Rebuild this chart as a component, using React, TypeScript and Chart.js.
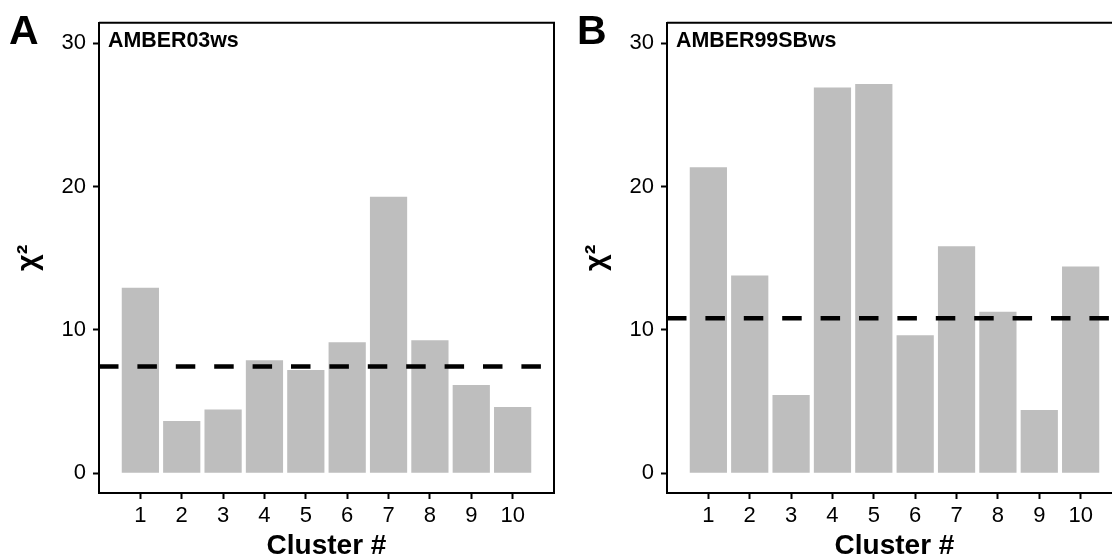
import React, { useEffect, useRef } from "react";
import { Chart, registerables } from "chart.js";

Chart.register(...registerables);

// ---- data ----
const clusters = ["1", "2", "3", "4", "5", "6", "7", "8", "9", "10"];
const amber03ws = [12.95, 3.65, 4.44, 7.88, 7.21, 9.14, 19.3, 9.28, 6.16, 4.63];
const amber99sbws = [21.35, 13.79, 5.46, 26.91, 27.17, 9.63, 15.84, 11.26, 4.42, 14.42];
const thresholds = [7.44, 10.82];
const yTicks = [0, 10, 20, 30];
const panelLetters = ["A", "B"];
const panelNames = ["AMBER03ws", "AMBER99SBws"];
const xTitle = "Cluster #";
const yTitle = "χ²";

const FONT = "'Liberation Sans', Arial, Helvetica, sans-serif";
const Y_MIN = -1.38;
const Y_MAX = 31.44;

const framePlugin = {
  id: "frame",
  afterDraw(chart: any) {
    const { ctx, chartArea: a } = chart;
    ctx.save();
    ctx.strokeStyle = "#000";
    ctx.lineWidth = 2;
    ctx.beginPath();
    ctx.moveTo(a.left, a.top);
    ctx.lineTo(a.right, a.top);
    ctx.lineTo(a.right, a.bottom);
    ctx.stroke();
    ctx.restore();
  },
};

function Panel({
  values,
  threshold,
  left,
  letter,
  name,
}: {
  values: number[];
  threshold: number;
  left: number;
  letter: string;
  name: string;
}) {
  const ref = useRef<HTMLCanvasElement | null>(null);

  useEffect(() => {
    if (!ref.current) return;
    const n = clusters.length;
    const chart = new Chart(ref.current, {
      type: "bar",
      data: {
        datasets: [
          {
            type: "line",
            data: [
              { x: 0, y: threshold },
              { x: n + 1, y: threshold },
            ],
            borderColor: "#000",
            borderWidth: 4.5,
            borderDash: [19.5, 18.9],
            borderCapStyle: "butt",
            pointRadius: 0,
            order: 0,
          } as any,
          {
            type: "bar",
            data: clusters.map((_, i) => ({ x: i + 1, y: values[i] })),
            backgroundColor: "#BEBEBE",
            borderWidth: 0,
            barPercentage: 0.9,
            categoryPercentage: 1,
            order: 1,
          } as any,
        ],
      },
      options: {
        responsive: false,
        animation: false,
        devicePixelRatio: 1,
        layout: { padding: { top: 22.7, right: 2, bottom: 0, left: 0 } },
        plugins: {
          legend: { display: false },
          tooltip: { enabled: false },
        },
        scales: {
          x: {
            type: "linear",
            min: 0,
            max: n + 1,
            offset: false,
            afterBuildTicks: (s: any) => {
              s.ticks = clusters.map((_, i) => ({ value: i + 1 }));
            },
            afterFit: (s: any) => {
              s.height = 67;
            },
            grid: {
              display: true,
              drawOnChartArea: false,
              drawTicks: true,
              tickLength: 6,
              tickWidth: 2,
              tickColor: "#000",
              offset: false,
            },
            border: { display: true, color: "#000", width: 2 },
            ticks: {
              color: "#000",
              font: { family: FONT, size: 22 },
              padding: 4,
              maxRotation: 0,
              autoSkip: false,
              callback: (v: any) => clusters[Number(v) - 1] ?? "",
            },
            title: {
              display: true,
              text: xTitle,
              color: "#000",
              font: { family: FONT, size: 28, weight: "bold", lineHeight: 1 },
              padding: { top: 0, bottom: 0 },
            },
          },
          y: {
            type: "linear",
            min: Y_MIN,
            max: Y_MAX,
            afterBuildTicks: (s: any) => {
              s.ticks = yTicks.map((v) => ({ value: v }));
            },
            afterFit: (s: any) => {
              s.width = 99;
            },
            grid: {
              display: true,
              drawOnChartArea: false,
              drawTicks: true,
              tickLength: 6,
              tickWidth: 2,
              tickColor: "#000",
            },
            border: { display: true, color: "#000", width: 2 },
            ticks: {
              color: "#000",
              font: { family: FONT, size: 22 },
              padding: 7,
            },
            title: {
              display: true,
              text: yTitle,
              color: "#000",
              font: { family: FONT, size: 29, weight: "bold", lineHeight: 1.2 },
              padding: { top: 12, bottom: 0 },
            },
          },
        },
      } as any,
      plugins: [framePlugin],
    });
    return () => chart.destroy();
  }, [values, threshold]);

  return (
    <div style={{ position: "absolute", left, top: 0, width: 556, height: 560 }}>
      <canvas ref={ref} width={556} height={560} style={{ display: "block" }} />
      <div
        style={{
          position: "absolute",
          left: 9,
          top: 10.3,
          font: `bold 41px ${FONT}`,
          lineHeight: "41px",
          color: "#000",
          whiteSpace: "nowrap",
        }}
      >
        {letter}
      </div>
      <div
        style={{
          position: "absolute",
          left: 108,
          top: 30.3,
          font: `bold 21.4px ${FONT}`,
          lineHeight: "21px",
          color: "#000",
          whiteSpace: "nowrap",
        }}
      >
        {name}
      </div>
    </div>
  );
}

export default function App() {
  const series = [amber03ws, amber99sbws];
  const offsets = [0, 568];
  return (
    <div
      style={{
        position: "fixed",
        left: 0,
        top: 0,
        width: 1112,
        height: 560,
        overflow: "hidden",
        background: "#fff",
      }}
    >
      {series.map((vals, i) => (
        <Panel
          key={panelLetters[i]}
          values={vals}
          threshold={thresholds[i]}
          left={offsets[i]}
          letter={panelLetters[i]}
          name={panelNames[i]}
        />
      ))}
    </div>
  );
}
